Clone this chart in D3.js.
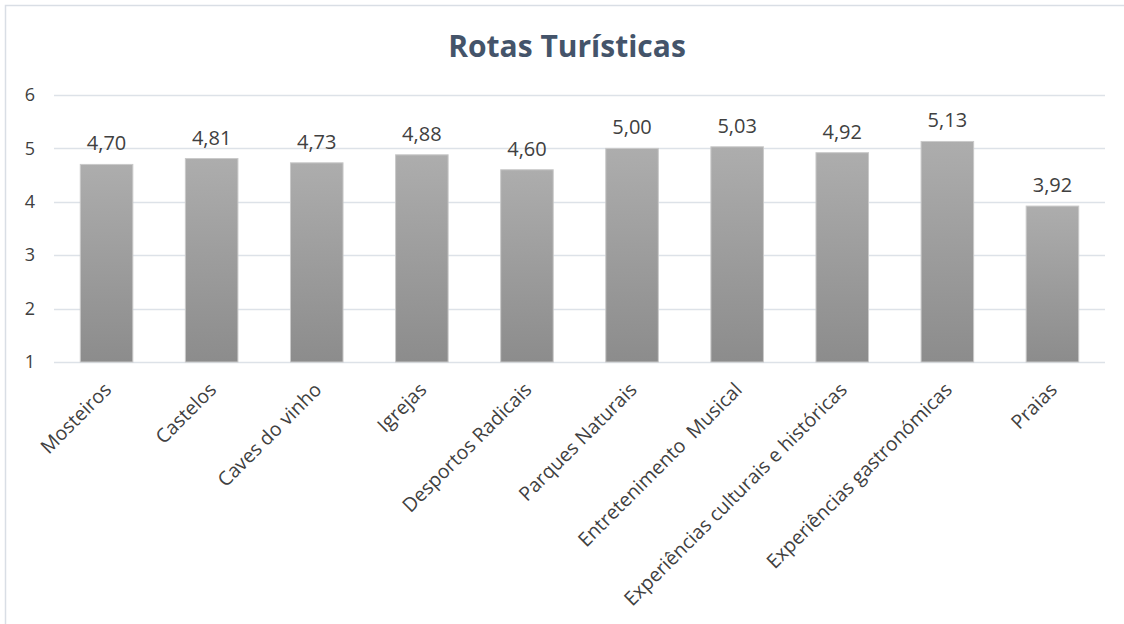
<!DOCTYPE html>
<html><head><meta charset="utf-8">
<script src="https://cdn.jsdelivr.net/npm/d3@7"></script>
<style>
html,body{margin:0;padding:0;background:#fff;}
svg{display:block;}
text{font-family:"Open Sans",sans-serif;}
</style></head>
<body>
<svg id="chart" width="1124" height="624"></svg>
<script>
const categories = ["Mosteiros","Castelos","Caves do vinho","Igrejas","Desportos Radicais","Parques Naturais","Entretenimento  Musical","Experiências culturais e históricas","Experiências gastronómicas","Praias"];
const values = [4.70,4.81,4.73,4.88,4.60,5.00,5.03,4.92,5.13,3.92];
const valueLabels = ["4,70","4,81","4,73","4,88","4,60","5,00","5,03","4,92","5,13","3,92"];
const yTicks = [1,2,3,4,5,6];
const title = "Rotas Turísticas";

(function(){
const svg = d3.select("#chart");
svg.append("rect").attr("x",5.5).attr("y",5.5).attr("width",1130).attr("height",630)
  .attr("fill","#fff").attr("stroke","#D9DEE5").attr("stroke-width",1.5);

const mLeft = 54, mRight = 1105, mTop = 95, mBottom = 362;
const x = d3.scaleBand().domain(categories).range([mLeft,mRight]).paddingInner(0.5).paddingOuter(0.25);
const y = d3.scaleLinear().domain([1,6]).range([mBottom,mTop]);

const defs = svg.append("defs");
const grad = defs.append("linearGradient").attr("id","barGrad").attr("x1",0).attr("y1",0).attr("x2",0).attr("y2",1);
grad.append("stop").attr("offset","0%").attr("stop-color","#ADADAD");
grad.append("stop").attr("offset","100%").attr("stop-color","#8C8C8C");

svg.append("g").selectAll("line").data(yTicks).join("line")
  .attr("x1",mLeft).attr("x2",mRight)
  .attr("y1",d=>Math.round(y(d))+0.5).attr("y2",d=>Math.round(y(d))+0.5)
  .attr("stroke","#DDE2E8").attr("stroke-width",1.5);

const yAxis = d3.axisLeft(y).tickValues(yTicks).tickSize(0).tickPadding(0).tickFormat(d3.format("d"));
const gy = svg.append("g").attr("transform","translate(30,0)").call(yAxis);
gy.select(".domain").remove();
gy.selectAll("text").attr("font-size",18).attr("fill","#404040").attr("text-anchor","middle")
  .attr("font-family","'Open Sans',sans-serif");

svg.append("g").selectAll("rect").data(values).join("rect")
  .attr("x",(d,i)=>x(categories[i])).attr("width",x.bandwidth())
  .attr("y",d=>y(d)).attr("height",d=>y(1)-y(d))
  .attr("fill","url(#barGrad)").attr("stroke","#C9C9C9").attr("stroke-width",1);

svg.append("g").selectAll("text").data(values).join("text")
  .attr("x",(d,i)=>x(categories[i])+x.bandwidth()/2).attr("y",d=>y(d)-14)
  .attr("text-anchor","middle").attr("font-size",20).attr("fill","#404040")
  .text((d,i)=>valueLabels[i]);

const xAxis = d3.axisBottom(x).tickSize(0).tickPadding(0);
const gx = svg.append("g").attr("transform",`translate(0,${mBottom})`).call(xAxis);
gx.select(".domain").remove();
gx.selectAll(".tick text").attr("font-size",19.5).attr("fill","#404040")
  .attr("font-family","'Open Sans',sans-serif")
  .style("white-space","pre")
  .attr("text-anchor","end").attr("dy",0).attr("y",0)
  .attr("transform","translate(6,29) rotate(-45)");

svg.append("text").attr("x",567).attr("y",57).attr("text-anchor","middle")
  .attr("font-size",30).attr("font-weight","bold").attr("fill","#44546A").text(title);
})();
</script>
</body></html>
